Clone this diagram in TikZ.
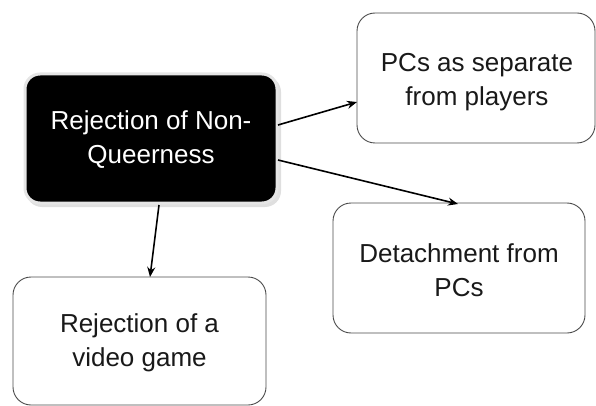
\documentclass[tikz,border=0pt]{standalone}
\usepackage{fontspec}
\setmainfont{Liberation Sans}
\usetikzlibrary{shadows,arrows.meta}
\begin{document}
\begin{tikzpicture}[x=1pt,y=-1pt,
  box/.style={draw=black!70, line width=0.9pt, rounded corners=18pt, fill=white},
  label/.style={font=\fontsize{26}{34}\selectfont, align=center, text=black!90},
  link/.style={line width=1.6pt, -{Stealth[length=10pt,width=8pt]}}]
\useasboundingbox (0,0) rectangle (596,406);
% central black node with pale rim and soft shadow
\fill[black!25, opacity=0.5, rounded corners=16pt] (26,76) rectangle (281,207);
\draw[fill=black, draw=black!10, line width=3pt, rounded corners=15pt] (25,74) rectangle (277,203);
\node[label, text=white] (root) at (151,140) {Rejection of Non-\\Queerness};
\coordinate (rootE1) at (278,125);
\coordinate (rootE2) at (278,160);
\coordinate (rootS) at (159,205);
% outer nodes
\draw[box] (357,13) rectangle (595,143);
\node[label] (sep) at (477,82) {PCs as separate\\from players};
\coordinate (sepW) at (357,102);
\draw[box] (333,203) rectangle (585,333);
\node[label] (det) at (459,270) {Detachment from\\PCs};
\coordinate (detN) at (458,204);
\draw[box] (13,277) rectangle (266,405);
\node[label] (vid) at (139.5,343) {Rejection of a\\video game};
\coordinate (vidN) at (150,277);
% connectors
\draw[link] (rootE1) -- (sepW);
\draw[link] (rootE2) -- (detN);
\draw[link] (rootS) -- (vidN);
\end{tikzpicture}
\end{document}
